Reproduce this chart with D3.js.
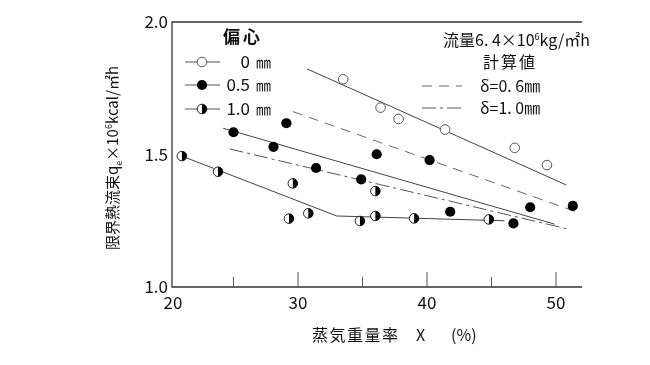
<!DOCTYPE html>
<head>
  <meta charset="utf-8">
  <script src="https://d3js.org/d3.v7.min.js"></script>
  <style>
    body { margin:0;position:fixed;top:0;right:0;bottom:0;left:0;background:#fff; }
    text {
      font-family: 'Noto Sans CJK JP', 'Noto Sans', sans-serif;
      fill: #111;
    }
    .frame { stroke: #333; stroke-width: 1.3; fill: none; }
    .tick-line { stroke: #555; stroke-width: 1; }
    .fit-line { fill: none; stroke: #444; stroke-width: 1; }
    .calc-06 { stroke-dasharray: 10,7; stroke: #666; }
    .calc-10 { stroke-dasharray: 14,4,3,4; stroke: #555; }
    .tick-label { font-size: 17px; }
  </style>
</head>

<body>
  <script>
    // 偏心 0 mm (open circles)
    var openX = [33.5, 36.4, 37.8, 41.4, 46.8, 49.3];
    var openY = [1.784, 1.677, 1.634, 1.594, 1.525, 1.460];
    // 偏心 0.5 mm (filled)
    var fullX = [25.0, 28.1, 29.1, 31.4, 34.9, 36.1, 40.2, 41.8, 46.7, 48.0, 51.3];
    var fullY = [1.584, 1.529, 1.618, 1.449, 1.406, 1.501, 1.479, 1.284, 1.240, 1.301, 1.306];
    // 偏心 1.0 mm (half filled)
    var halfX = [21.0, 23.8, 29.3, 29.6, 30.8, 34.8, 36.0, 36.0, 39.0, 44.8];
    var halfY = [1.494, 1.435, 1.258, 1.391, 1.278, 1.249, 1.362, 1.268, 1.259, 1.255];

    // fitted lines through the data
    var fit0 = [[30.7, 1.823], [50.8, 1.385]];
    var fit05 = [[24.2, 1.599], [49.9, 1.237]];
    var fit10 = [[21.0, 1.494], [33.0, 1.268], [46.0, 1.250]];
    // 計算値
    var calc06 = [[29.6, 1.662], [51.9, 1.278]];
    var calc10 = [[24.7, 1.521], [50.9, 1.219]];

    var xTicks = [20, 25, 30, 35, 40, 45, 50];
    var xTickLabels = ["20", "30", "40", "50"];
    var yTickLabels = ["1.0", "1.5", "2.0"];

    var W = 650, H = 365;
    var frame = {left: 172, right: 582, top: 22, bottom: 287};

    var svg = d3.select("body").append("svg")
      .attr("width", W)
      .attr("height", H);

    var x = d3.scaleLinear().domain([20, 55]).range([169, 620.5]);
    var y = d3.scaleLinear().domain([1.0, 2.0]).range([frame.bottom, frame.top]);

    // frame: left, top, bottom
    svg.append("path")
      .attr("class", "frame")
      .attr("d", "M" + frame.right + "," + frame.top + "H" + frame.left + "V" + frame.bottom + "H" + frame.right);

    // inward ticks on bottom
    svg.append("g").selectAll("line")
      .data(xTicks.filter(d => d > 20))
      .enter().append("line")
        .attr("class", "tick-line")
        .attr("x1", d => x(d)).attr("x2", d => x(d))
        .attr("y1", frame.bottom)
        .attr("y2", d => frame.bottom - (d % 10 == 0 ? 15 : 10));

    svg.append("g").selectAll("text")
      .data(xTickLabels)
      .enter().append("text")
        .attr("class", "tick-label")
        .attr("x", d => +d == 20 ? x(+d) + 4 : x(+d))
        .attr("y", 309)
        .attr("text-anchor", "middle")
        .text(d => d);

    svg.append("g").selectAll("text")
      .data(yTickLabels)
      .enter().append("text")
        .attr("class", "tick-label")
        .attr("x", 168)
        .attr("y", d => y(+d) + 6)
        .attr("text-anchor", "end")
        .text(d => d);

    // axis titles
    var xt = svg.append("text")
      .attr("x", 312)
      .attr("y", 341)
      .style("font-size", "16px");
    xt.append("tspan").attr("letter-spacing", "1.5px").text("蒸気重量率");
    xt.append("tspan").attr("x", 416).text("X");
    xt.append("tspan").attr("x", 451).text("(%)");

    var yt = svg.append("text")
      .attr("transform", "translate(118,158) rotate(-90)")
      .attr("text-anchor", "middle")
      .style("font-size", "15px");
    yt.append("tspan").text("限界熱流束q");
    yt.append("tspan").attr("dy", 4).style("font-size", "9px").text("e");
    yt.append("tspan").attr("dy", -4).text("×10");
    yt.append("tspan").attr("dy", -6).style("font-size", "9px").text("6");
    yt.append("tspan").attr("dy", 6).text("kcal/㎡h");

    var line = d3.line().x(d => x(d[0])).y(d => y(d[1]));

    var lines = svg.append("g");
    [fit0, fit05, fit10].forEach(function(pts) {
      lines.append("path").attr("class", "fit-line").attr("d", line(pts));
    });
    lines.append("path").attr("class", "fit-line calc-06").attr("d", line(calc06));
    lines.append("path").attr("class", "fit-line calc-10").attr("d", line(calc10));

    var r = 4.8;
    var half = d3.arc().innerRadius(0).outerRadius(r).startAngle(0).endAngle(Math.PI);

    function drawMarker(g, kind) {
      if (kind == "open") {
        g.append("circle").attr("r", r).attr("fill", "#fff").attr("stroke", "#555").attr("stroke-width", 1);
      } else if (kind == "full") {
        g.append("circle").attr("r", r + 0.3).attr("fill", "#000");
      } else {
        g.append("circle").attr("r", r).attr("fill", "#fff").attr("stroke", "#222").attr("stroke-width", 1);
        g.append("path").attr("d", half()).attr("fill", "#000");
      }
    }

    var pts = svg.append("g");
    [[openX, openY, "open"], [fullX, fullY, "full"], [halfX, halfY, "half"]].forEach(function(s) {
      s[0].forEach(function(v, i) {
        var g = pts.append("g").attr("transform", "translate(" + x(v) + "," + y(s[1][i]) + ")");
        drawMarker(g, s[2]);
      });
    });

    // legend, left
    var legend = svg.append("g");
    legend.append("text")
      .attr("x", 223).attr("y", 43)
      .style("font-size", "17px").style("font-weight", 700)
      .attr("letter-spacing", "3px")
      .text("偏心");

    var rows = [["0", "open", 62], ["0.5", "full", 85], ["1.0", "half", 109]];
    rows.forEach(function(rw) {
      legend.append("line")
        .attr("class", "tick-line")
        .attr("x1", 185).attr("x2", 220)
        .attr("y1", rw[2]).attr("y2", rw[2]);
      drawMarker(legend.append("g").attr("transform", "translate(202," + rw[2] + ")"), rw[1]);
      legend.append("text")
        .attr("x", 250).attr("y", rw[2] + 6)
        .attr("text-anchor", "end")
        .style("font-size", "17px")
        .text(rw[0]);
      legend.append("text")
        .attr("x", 256).attr("y", rw[2] + 6)
        .style("font-size", "15px")
        .text("㎜");
    });

    // legend, right
    var lr = svg.append("g");
    var fl = lr.append("text").attr("x", 443).attr("y", 46).style("font-size", "16px");
    fl.append("tspan").text("流量6. 4×10");
    fl.append("tspan").attr("dy", -6).style("font-size", "9px").text("6");
    fl.append("tspan").attr("dy", 6).text("kg/㎡h");

    lr.append("text").attr("x", 510).attr("y", 68)
      .attr("text-anchor", "middle")
      .attr("letter-spacing", "2px")
      .style("font-size", "16px").text("計算値");

    lr.append("line").attr("class", "fit-line calc-06")
      .attr("x1", 422).attr("x2", 462).attr("y1", 86).attr("y2", 86);
    lr.append("line").attr("class", "fit-line calc-10")
      .attr("x1", 422).attr("x2", 462).attr("y1", 108).attr("y2", 108);
    lr.append("text").attr("x", 480).attr("y", 92).style("font-size", "16px").text("δ=0. 6㎜");
    lr.append("text").attr("x", 480).attr("y", 114).style("font-size", "16px").text("δ=1. 0㎜");
  </script>
</body>
